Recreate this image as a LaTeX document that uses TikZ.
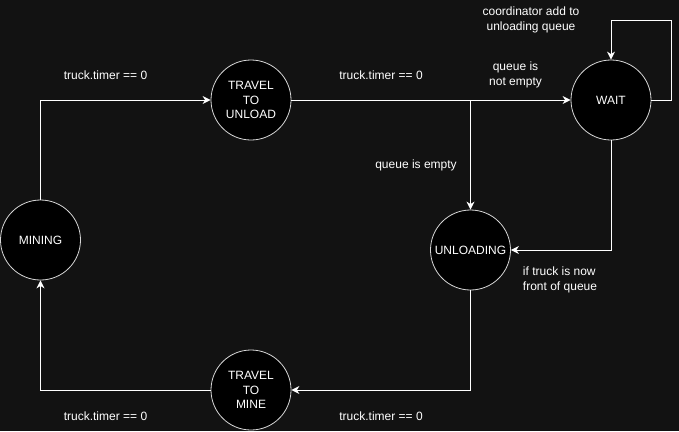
\documentclass[tikz,border=0pt]{standalone}
\usepackage{fontspec}
\setmainfont{Liberation Sans}
\usetikzlibrary{arrows.meta}
\definecolor{bg}{RGB}{18,18,18}
\definecolor{ring}{RGB}{215,215,215}
\begin{document}
\begin{tikzpicture}[x=1pt,y=-1pt,
  state/.style={circle, draw=ring, fill=black, minimum size=80pt, inner sep=0pt,
    text=white, align=center, line width=0.8pt, font=\fontsize{12}{14.3}\selectfont},
  lbl/.style={text=white, align=center, inner sep=0pt, font=\fontsize{12}{14.4}\selectfont},
  arr/.style={draw=white, line width=1pt, -{Stealth[length=8pt,width=8pt,inset=2.5pt]}}]
\fill[bg] (0,0) rectangle (679,431);
\useasboundingbox (0,0) rectangle (679,431);
\node[state] (mining) at (40.5,240) {MINING};
\node[state] (tu) at (251,100) {TRAVEL\\TO\\UNLOAD};
\node[state] (wait) at (611,100) {WAIT};
\node[state] (unl) at (470.5,250) {UNLOADING};
\node[state] (tm) at (251,390) {TRAVEL\\TO\\MINE};
\coordinate (loop) at (671,20.5);
\draw[arr] (mining.north) |- (tu.west);
\draw[arr] (tu.east) -- (wait.west);
\draw[arr] (tu.east) -| (unl.north);
\draw[arr] (wait.east) -| (loop) -| (wait.north);
\draw[arr] (wait.south) |- (unl.east);
\draw[arr] (unl.south) |- (tm.east);
\draw[arr] (tm.west) -| (mining.south);
\node[lbl] (l1) at (105.5,75.5) {truck.timer == 0};
\node[lbl] (l2) at (381,75.5) {truck.timer == 0};
\node[lbl] (l3) at (515.5,75) {queue is\\not empty};
\node[lbl] (l4) at (531,20) {coordinator add to\\unloading queue};
\node[lbl] (l5) at (416,165.5) {queue is empty};
\node[lbl, align=left] (l6) at (560,280) {if truck is now\\front of queue};
\node[lbl] (l7) at (381,416) {truck.timer == 0};
\node[lbl] (l8) at (105.5,416) {truck.timer == 0};
\end{tikzpicture}
\end{document}
